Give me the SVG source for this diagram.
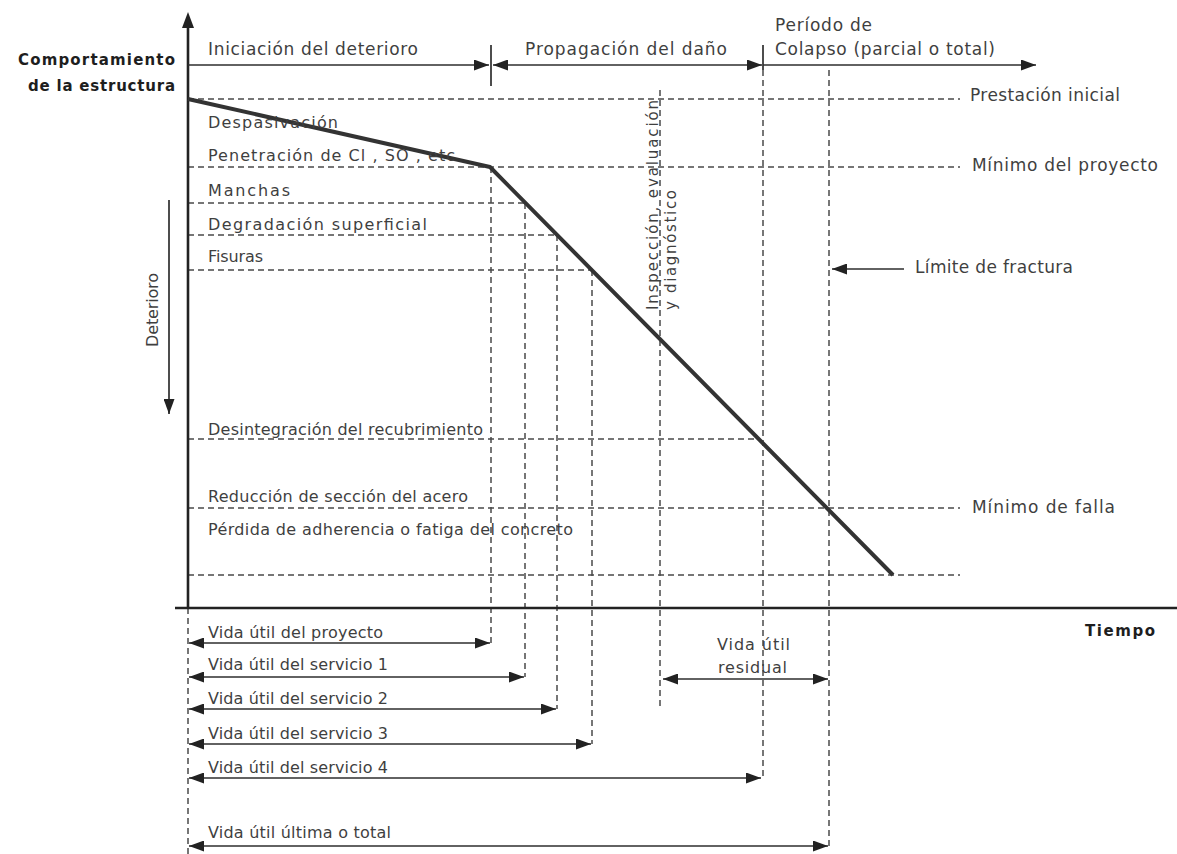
<svg xmlns="http://www.w3.org/2000/svg" width="1177" height="854" viewBox="0 0 1177 854">
<style>
  .lbl { font-family: "DejaVu Sans", "Liberation Sans", sans-serif; font-size: 16px; fill: #3f3f3f; }
  .big { font-size: 17px; }
  .rot { font-size: 15px; }
  .bold { font-family: "DejaVu Sans", "Liberation Sans", sans-serif; font-weight: bold; font-size: 15px; fill: #1e1e1e; }
  .dash { stroke: #4a4a4a; stroke-width: 1.5; stroke-dasharray: 6 4; fill: none; }
  .arr { stroke: #2e2e2e; stroke-width: 1.7; fill: none; }
  .axis { stroke: #222; stroke-width: 2.6; fill: none; }
</style>
<defs>
  <marker id="ah" viewBox="0 0 15 11" refX="15" refY="5.5" markerWidth="15" markerHeight="11" markerUnits="userSpaceOnUse" orient="auto-start-reverse">
    <path d="M0,0 L15,5.5 L0,11 z" fill="#222"/>
  </marker>
</defs>
<rect width="1177" height="854" fill="#ffffff"/>

<g id="grid">
  <line class="dash" x1="188" y1="99" x2="960" y2="99"/>
  <line class="dash" x1="188" y1="167" x2="960" y2="167"/>
  <line class="dash" x1="188" y1="203" x2="525" y2="203"/>
  <line class="dash" x1="188" y1="235" x2="557" y2="235"/>
  <line class="dash" x1="188" y1="270" x2="592" y2="270"/>
  <line class="dash" x1="188" y1="439" x2="760" y2="439"/>
  <line class="dash" x1="188" y1="508" x2="960" y2="508"/>
  <line class="dash" x1="188" y1="575" x2="960" y2="575"/>
  <line class="dash" x1="491" y1="167" x2="491" y2="643"/>
  <line class="dash" x1="525" y1="203" x2="525" y2="677"/>
  <line class="dash" x1="557" y1="235" x2="557" y2="709"/>
  <line class="dash" x1="592" y1="270" x2="592" y2="744"/>
  <line class="dash" x1="660" y1="90" x2="660" y2="708"/>
  <line class="dash" x1="763" y1="70" x2="763" y2="778"/>
  <line class="dash" x1="829" y1="70" x2="829" y2="846"/>
  <line class="dash" x1="188" y1="608" x2="188" y2="854"/>
</g>

<g id="axes">
  <line class="axis" x1="188" y1="608" x2="188" y2="26"/>
  <path d="M182,28 L188,12 L194,28 z" fill="#222"/>
  <line class="axis" x1="175" y1="608" x2="1177" y2="608"/>
</g>

<g id="curve">
  <polyline points="188,99 490,167 893,575" fill="none" stroke="#333" stroke-width="4" stroke-linejoin="round"/>
</g>

<g id="connectors">
  <line class="arr" x1="188" y1="65" x2="489" y2="65" marker-end="url(#ah)"/>
  <line class="arr" x1="493" y1="65" x2="762" y2="65" marker-start="url(#ah)" marker-end="url(#ah)"/>
  <line class="arr" x1="763" y1="65" x2="1036" y2="65" marker-end="url(#ah)"/>
  <line class="arr" x1="491" y1="45" x2="491" y2="86"/>
  <line class="arr" x1="763" y1="45" x2="763" y2="70"/>
  <line class="arr" x1="169" y1="200" x2="169" y2="414" marker-end="url(#ah)"/>
  <line class="arr" x1="904" y1="269" x2="832" y2="269" marker-end="url(#ah)"/>
  <line class="arr" x1="189" y1="643" x2="490" y2="643" marker-start="url(#ah)" marker-end="url(#ah)"/>
  <line class="arr" x1="189" y1="677" x2="524" y2="677" marker-start="url(#ah)" marker-end="url(#ah)"/>
  <line class="arr" x1="189" y1="709" x2="556" y2="709" marker-start="url(#ah)" marker-end="url(#ah)"/>
  <line class="arr" x1="189" y1="744" x2="591" y2="744" marker-start="url(#ah)" marker-end="url(#ah)"/>
  <line class="arr" x1="189" y1="778" x2="761" y2="778" marker-start="url(#ah)" marker-end="url(#ah)"/>
  <line class="arr" x1="189" y1="846" x2="828" y2="846" marker-start="url(#ah)" marker-end="url(#ah)"/>
  <line class="arr" x1="663" y1="679" x2="828" y2="679" marker-start="url(#ah)" marker-end="url(#ah)"/>
</g>

<g id="axis-labels">
  <text class="bold" x="175" y="65" text-anchor="end" textLength="157">Comportamiento</text>
  <text class="bold" x="175" y="91" text-anchor="end" textLength="147">de la estructura</text>
  <text class="bold" x="1085" y="636" textLength="70">Tiempo</text>
  <text class="lbl" font-size="13" text-anchor="middle" transform="translate(158,310) rotate(-90)" textLength="74">Deterioro</text>
</g>

<g id="phases">
  <text class="lbl big" x="208" y="55" textLength="210">Iniciación del deterioro</text>
  <text class="lbl big" x="525" y="55" textLength="202">Propagación del daño</text>
  <text class="lbl big" x="775" y="31" textLength="97">Período de</text>
  <text class="lbl big" x="775" y="55" textLength="220">Colapso (parcial o total)</text>
</g>

<g id="levels">
  <text class="lbl big" x="970" y="101" textLength="150">Prestación inicial</text>
  <text class="lbl big" x="972" y="171" textLength="186">Mínimo del proyecto</text>
  <text class="lbl big" x="915" y="273" textLength="158">Límite de fractura</text>
  <text class="lbl big" x="972" y="513" textLength="143">Mínimo de falla</text>
</g>

<g id="damage-labels">
  <text class="lbl" x="208" y="128" textLength="130">Despasivación</text>
  <text class="lbl" x="208" y="161" textLength="247">Penetración de Cl , SO , etc</text>
  <text class="lbl" x="208" y="196" textLength="82">Manchas</text>
  <text class="lbl" x="208" y="230" textLength="219">Degradación superficial</text>
  <text class="lbl" x="208" y="262" textLength="55">Fisuras</text>
  <text class="lbl" x="208" y="435" textLength="275">Desintegración del recubrimiento</text>
  <text class="lbl" x="208" y="502" textLength="260">Reducción de sección del acero</text>
  <text class="lbl" x="208" y="535" textLength="365">Pérdida de adherencia o fatiga del concreto</text>
</g>

<g id="inspection">
  <text class="lbl rot" transform="translate(658,310) rotate(-90)" textLength="210">Inspección, evaluación</text>
  <text class="lbl rot" transform="translate(676,310) rotate(-90)" textLength="120">y diagnóstico</text>
</g>

<g id="lifespans">
  <text class="lbl" x="208" y="638" textLength="175">Vida útil del proyecto</text>
  <text class="lbl" x="208" y="670" textLength="180">Vida útil del servicio 1</text>
  <text class="lbl" x="208" y="704" textLength="180">Vida útil del servicio 2</text>
  <text class="lbl" x="208" y="739" textLength="180">Vida útil del servicio 3</text>
  <text class="lbl" x="208" y="773" textLength="180">Vida útil del servicio 4</text>
  <text class="lbl" x="208" y="838" textLength="183">Vida útil última o total</text>
  <text class="lbl" x="717" y="650" textLength="73">Vida útil</text>
  <text class="lbl" x="718" y="673" textLength="69">residual</text>
</g>
</svg>
